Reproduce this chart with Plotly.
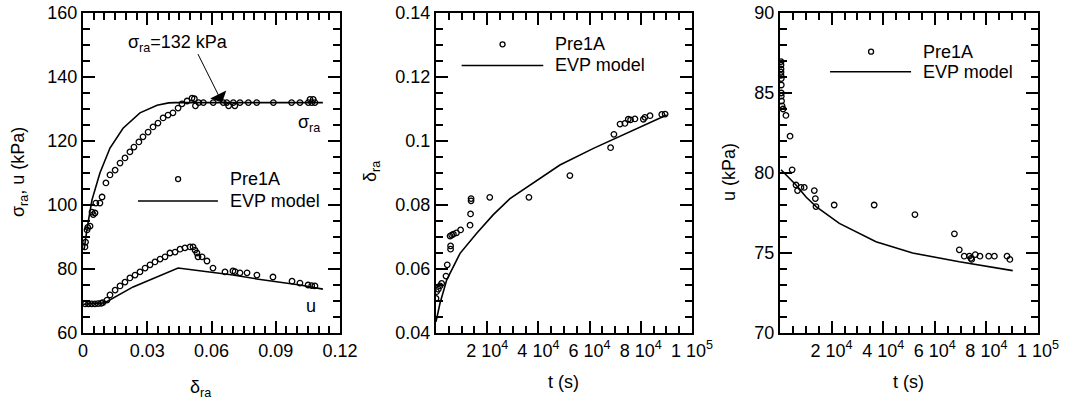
import plotly.graph_objects as go

# ---------------- Panel 1 data: sigma_ra and u versus delta_ra ----------------
d_sig_data = [0.0009, 0.0012, 0.0019, 0.0022, 0.0033, 0.0042, 0.0048, 0.0056, 0.0060, 0.0079,
              0.0089, 0.0107, 0.0126, 0.0150, 0.0173, 0.0196, 0.0219, 0.0238, 0.0261, 0.0280,
              0.0304, 0.0327, 0.0350, 0.0374, 0.0397, 0.0420, 0.0444, 0.0462, 0.0486, 0.0509,
              0.0520, 0.0525, 0.0540, 0.0562, 0.0608, 0.0655, 0.0671, 0.0680, 0.0702, 0.0709,
              0.0733, 0.0772, 0.0811, 0.0889, 0.0974, 0.1013, 0.1052, 0.1060, 0.1068, 0.1075, 0.1083]
sig_data = [86.9, 88.4, 92.2, 93.0, 93.4, 97.8, 97.0, 97.5, 100.6, 100.6,
            102.5, 106.9, 109.4, 110.9, 113.1, 114.7, 116.6, 118.1, 119.7, 121.3,
            122.8, 124.4, 125.6, 127.2, 128.1, 128.8, 130.3, 131.6, 132.5, 133.4,
            133.2, 131.0, 132.0, 132.0, 132.0, 132.0, 132.0, 131.0, 132.0, 131.0,
            132.0, 132.0, 132.0, 132.0, 132.0, 132.0, 132.0, 133.0, 132.0, 133.0, 132.0]

d_u_data = [0.0010, 0.0025, 0.0040, 0.0055, 0.0070, 0.0085, 0.0093, 0.0112, 0.0126, 0.0150,
            0.0173, 0.0196, 0.0219, 0.0243, 0.0266, 0.0290, 0.0313, 0.0336, 0.0360, 0.0383,
            0.0406, 0.0430, 0.0453, 0.0476, 0.0500, 0.0514, 0.0523, 0.0532, 0.0537, 0.0556,
            0.0579, 0.0607, 0.0663, 0.0700, 0.0710, 0.0733, 0.0766, 0.0812, 0.0887, 0.0976,
            0.1013, 0.1051, 0.1068, 0.1083]
u_data = [69.1, 69.1, 69.1, 69.1, 69.2, 69.3, 69.5, 70.3, 71.9, 73.4,
          74.7, 75.9, 77.2, 78.1, 79.1, 80.3, 81.3, 82.2, 83.1, 83.8,
          85.0, 85.3, 86.2, 86.6, 86.9, 86.9, 85.9, 85.0, 83.8, 83.8,
          82.5, 80.3, 79.1, 79.4, 79.2, 78.8, 78.8, 78.1, 77.5, 76.2,
          75.6, 75.0, 74.8, 74.7]

d_sig_model = [0.0005, 0.0020, 0.0042, 0.0079, 0.0126, 0.0187, 0.0266, 0.0346, 0.0400, 0.0430, 0.1120]
sig_model = [86.0, 93.0, 101.6, 110.0, 117.8, 124.0, 128.8, 131.2, 131.9, 132.0, 132.0]

d_u_model = [0.0, 0.0100, 0.0234, 0.0444, 0.0700, 0.0811, 0.1013, 0.1120]
u_model = [69.0, 69.4, 74.4, 80.3, 78.1, 76.9, 75.0, 73.7]

# ---------------- Panel 2 data: delta_ra versus time ----------------
t2_data = [0, 200, 900, 1560, 2200, 3900, 4400, 5700, 5700, 5500, 6100, 6800, 8000, 9600,
           13300, 13500, 13700, 13700, 21000, 36300, 52300, 68200, 69500, 71900, 73800,
           75100, 76000, 77700, 81000, 81600, 83600, 88200, 89500]
delta_data = [0.0508, 0.0529, 0.0537, 0.0547, 0.0555, 0.0578, 0.0613, 0.0662, 0.0672, 0.0703,
              0.0706, 0.0709, 0.0713, 0.0722, 0.0737, 0.0772, 0.0813, 0.0820, 0.0824, 0.0824,
              0.0892, 0.0979, 0.1021, 0.1053, 0.1055, 0.1068, 0.1066, 0.1069, 0.1068, 0.1074,
              0.1079, 0.1083, 0.1084]

t2_model = [0, 1560, 4200, 9400, 15900, 22400, 28900, 38000, 48400, 61500, 74500, 90100]
delta_model = [0.0435, 0.0493, 0.0566, 0.0649, 0.0712, 0.0770, 0.0820, 0.0870, 0.0925, 0.0977, 0.1024, 0.1081]

# ---------------- Panel 3 data: u versus time ----------------
t3_data = [400, 400, 400, 400, 400, 500, 500, 500, 500, 600, 800, 1200, 2300, 3900, 4700,
           6200, 6800, 8100, 9400, 13300, 13700, 13950, 21000, 36500, 52300, 67600, 69500,
           71400, 73400, 74000, 74300, 75700, 77500, 80900, 83100, 88000, 89100]
u3_data = [86.96, 86.75, 86.5, 86.3, 86.1, 85.9, 85.5, 85.0, 84.8, 84.5, 84.2, 84.0, 83.6,
           82.3, 80.2, 79.25, 78.9, 79.1, 79.1, 78.9, 78.4, 77.9, 78.0, 78.0, 77.4, 76.2,
           75.2, 74.8, 74.8, 74.67, 74.6, 74.9, 74.8, 74.8, 74.8, 74.8, 74.6]

t3_model = [400, 6200, 10100, 14000, 23000, 37200, 51400, 69500, 90200]
u3_model = [80.2, 79.25, 78.5, 77.9, 76.85, 75.7, 75.0, 74.45, 73.9]

t_tickvals = [0, 20000, 40000, 60000, 80000, 100000]
t_ticktext = ["", "2 10<sup>4</sup>", "4 10<sup>4</sup>", "6 10<sup>4</sup>", "8 10<sup>4</sup>", "1 10<sup>5</sup>"]

FONT = "Liberation Sans, Arial, sans-serif"
W, H = 1066, 400

def xd(a, b):
    return [a / W, b / W]

ydom = [1 - 333 / H, 1 - 13 / H]

marker_style = dict(symbol="circle-open", size=5.5, color="black", line=dict(width=1.3, color="black"))
line_style = dict(color="black", width=1.6)

fig = go.Figure()
fig.add_trace(go.Scatter(x=d_sig_data, y=sig_data, mode="markers", marker=marker_style, xaxis="x", yaxis="y"))
fig.add_trace(go.Scatter(x=d_u_data, y=u_data, mode="markers", marker=marker_style, xaxis="x", yaxis="y"))
fig.add_trace(go.Scatter(x=d_sig_model, y=sig_model, mode="lines", line=line_style, xaxis="x", yaxis="y"))
fig.add_trace(go.Scatter(x=d_u_model, y=u_model, mode="lines", line=line_style, xaxis="x", yaxis="y"))

fig.add_trace(go.Scatter(x=t2_data, y=delta_data, mode="markers", marker=marker_style, xaxis="x2", yaxis="y2"))
fig.add_trace(go.Scatter(x=t2_model, y=delta_model, mode="lines", line=line_style, xaxis="x2", yaxis="y2"))

fig.add_trace(go.Scatter(x=t3_data, y=u3_data, mode="markers", marker=marker_style, xaxis="x3", yaxis="y3"))
fig.add_trace(go.Scatter(x=t3_model, y=u3_model, mode="lines", line=line_style, xaxis="x3", yaxis="y3"))

def axis(**kw):
    base = dict(showline=True, linecolor="black", linewidth=2, mirror="allticks",
                ticks="inside", ticklen=12, tickwidth=2, tickcolor="black",
                showgrid=False, zeroline=False, automargin=False,
                tickfont=dict(family=FONT, size=18, color="black"))
    base.update(kw)
    return base

def steps(a, b, s):
    n = int(round((b - a) / s))
    return [round(a + i * s, 6) for i in range(n + 1)]

def minor(vals):
    return dict(ticks="inside", ticklen=7, tickwidth=2, tickcolor="black",
                tickmode="array", tickvals=vals, showgrid=False)

fig.update_layout(
    width=W, height=H, margin=dict(l=0, r=0, t=0, b=0, autoexpand=False),
    paper_bgcolor="white", plot_bgcolor="white", showlegend=False,
    font=dict(family=FONT, size=18, color="black"),
    xaxis=axis(domain=xd(83, 340), anchor="y", range=[0, 0.12], tickmode="array",
               tickvals=[0, 0.03, 0.06, 0.09, 0.12], ticktext=["0", "0.03", "0.06", "0.09", "0.12"],
               minor=minor(steps(0, 0.12, 0.005))),
    yaxis=axis(domain=ydom, anchor="x", range=[60, 160], tickmode="array",
               tickvals=[60, 80, 100, 120, 140, 160], minor=minor(steps(60, 160, 5))),
    xaxis2=axis(domain=xd(436, 692), anchor="y2", range=[0, 100000], tickmode="array",
                tickvals=t_tickvals, ticktext=t_ticktext, minor=minor(steps(0, 100000, 5000))),
    yaxis2=axis(domain=ydom, anchor="x2", range=[0.04, 0.14], tickmode="array",
                tickvals=[0.04, 0.06, 0.08, 0.1, 0.12, 0.14], ticktext=["0.04", "0.06", "0.08", "0.1", "0.12", "0.14"],
                minor=minor(steps(0.04, 0.14, 0.005))),
    xaxis3=axis(domain=xd(780, 1038), anchor="y3", range=[0, 100000], tickmode="array",
                tickvals=t_tickvals, ticktext=t_ticktext, minor=minor(steps(0, 100000, 5000))),
    yaxis3=axis(domain=ydom, anchor="x3", range=[70, 90], tickmode="array",
                tickvals=[70, 75, 80, 85, 90], minor=minor(steps(70, 90, 1))),
)

ann = []
def txt(text, x, y, xref="paper", yref="paper", xanchor="center", yanchor="middle", angle=0, size=18):
    ann.append(dict(text=text, x=x, y=y, xref=xref, yref=yref, xanchor=xanchor, yanchor=yanchor,
                    textangle=angle, showarrow=False, font=dict(family=FONT, size=size, color="black")))

# axis titles
txt("σ<sub>ra</sub>, u (kPa)", 20 / W, 1 - 172 / H, angle=-90)
txt("δ<sub>ra</sub>", 200 / W, 1 - 388 / H)
txt("δ<sub>ra</sub>", 372 / W, 1 - 172 / H, angle=-90)
txt("t (s)", 563 / W, 1 - 382 / H)
txt("u (kPa)", 729 / W, 1 - 172 / H, angle=-90)
txt("t (s)", 908 / W, 1 - 382 / H)

# panel 1 labels
txt("σ<sub>ra</sub>=132 kPa", 0.168, 0.905, xref="x domain", yref="y domain", xanchor="left")
txt("σ<sub>ra</sub>", 0.830, 0.655, xref="x domain", yref="y domain", xanchor="left")
txt("u", 0.887, 0.084, xref="x domain", yref="y domain")
ann.append(dict(x=0.065, y=132, xref="x", yref="y", ax=-25, ay=-50, text="", showarrow=True,
                arrowhead=1, arrowsize=3, arrowwidth=1, arrowcolor="black", standoff=0))

# legends
legends = [("x", "y", 0.370, 0.564, 0.214, 0.525, 0.481, 0.4125),
           ("x2", "y2", 0.260, 0.456, 0.100, 0.419, 0.902, 0.836),
           ("x3", "y3", 0.353, 0.547, 0.194, 0.508, 0.879, 0.8166)]
shapes = []
for xa, ya, mx, tx, l0, l1, y1, y2 in legends:
    txt("Pre1A", tx, y1, xref=xa + " domain", yref=ya + " domain", xanchor="left")
    txt("EVP model", tx, y2, xref=xa + " domain", yref=ya + " domain", xanchor="left")
    shapes.append(dict(type="circle", xref=xa + " domain", yref=ya + " domain",
                       xsizemode="pixel", ysizemode="pixel", xanchor=mx, yanchor=y1,
                       x0=-2.5, x1=2.5, y0=-2.5, y1=2.5, line=dict(color="black", width=1.3)))
    shapes.append(dict(type="line", xref=xa + " domain", yref=ya + " domain",
                       x0=l0, x1=l1, y0=y2, y1=y2, line=dict(color="black", width=1.6)))

fig.update_layout(annotations=ann, shapes=shapes)
fig.write_html("out.html")
